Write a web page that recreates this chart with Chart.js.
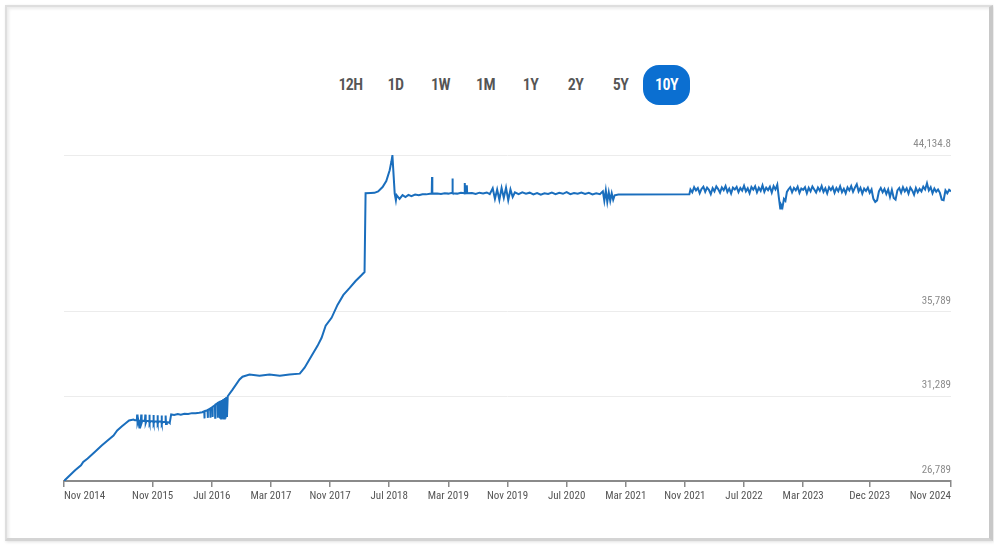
<!DOCTYPE html>
<html lang="en">
<head>
    <meta charset="UTF-8">
    <title>10Y Index Chart</title>
    <script src="https://cdn.jsdelivr.net/npm/chart.js@4.4.1/dist/chart.umd.min.js"></script>
    <style>
        body {
            margin: 0;
            width: 994px;
            height: 545px;
            background: #ffffff;
            font-family: 'Liberation Sans Narrow', 'Roboto Condensed', Roboto, sans-serif;
            overflow: hidden;
            position: relative;
        }
        .frame {
            position: absolute;
            left: 5px;
            top: 5px;
            width: 982px;
            height: 531px;
            border: 2px solid #dedede;
            border-right: 4px solid #c8c8c8;
            border-bottom: 3px solid #d4d4d4;
            box-shadow: inset 2px 2px 3px rgba(0, 0, 0, 0.08), 1px 1px 3px rgba(0, 0, 0, 0.12);
        }
        .ranges {
            position: absolute;
            left: 328px;
            top: 65px;
            display: flex;
        }
        .ranges span {
            width: 45px;
            height: 40px;
            line-height: 40px;
            text-align: center;
            font-size: 16px;
            font-weight: 600;
            letter-spacing: -0.6px;
            color: #555;
        }
        .ranges span.active {
            width: 47px;
            background: #0b6fd1;
            color: #fff;
            border-radius: 16px;
        }
        .chart-box {
            position: absolute;
            left: 0;
            top: 0;
            width: 994px;
            height: 545px;
        }
    </style>
</head>
<body>
    <div class="frame"></div>
    <div class="ranges">
        <span>12H</span><span>1D</span><span>1W</span><span>1M</span><span>1Y</span><span>2Y</span><span>5Y</span><span class="active">10Y</span>
    </div>
    <div class="chart-box">
        <canvas id="idx"></canvas>
    </div>

    <script>
        // months after Nov 2014 (one row per stretch of the line)
        const xMonths = [
            0, 0.8, 1.5, 2.3, 2.6, 3.2, 4.2, 5.1, 5.9, 6.7, 7.2, 7.8, 8.3, 8.8, 9.4,
            9.6, 9.85, 9.9, 9.95, 10.05, 10.2, 10.25, 10.4, 10.45, 10.5, 10.6, 10.95, 11.0, 11.05, 11.15, 11.5, 11.55, 11.6, 11.7,
            12.05, 12.1, 12.15, 12.25, 12.6, 12.65, 12.7, 12.8, 13.15, 13.2, 13.25, 13.35, 13.7, 13.75, 13.8, 13.9, 14.25, 14.3, 14.5,
            14.9, 15.4, 15.8, 16.3, 16.8, 17.3, 17.8, 18.3, 18.7,
            18.97, 19.0, 19.03, 19.42, 19.45, 19.48, 19.77, 19.8, 19.83, 20.07, 20.1, 20.13, 20.42, 20.45, 20.48, 20.77, 20.8, 20.83,
            21.05, 21.1, 21.15, 21.25, 21.35, 21.45, 21.55, 21.65, 21.75, 21.85, 21.95, 22.05, 22.15,
            22.8, 23.75, 24.15, 25.1, 26.45, 27.8, 29.2, 30.5, 31.9, 32.55, 33.5, 34.3, 34.85, 35.4, 36.2, 37.0, 37.8, 38.65, 39.45, 40.27, 40.66, 40.8,
            41.5, 42.0, 42.5, 43.1, 43.6, 44.06, 44.3, 44.43, 44.6, 44.74, 44.9, 45.0,
            45.4, 45.8, 46.2, 46.6, 47.0, 47.5, 48.0, 48.5, 49.0, 49.5, 49.75, 49.79, 49.83, 50.5, 51.0, 51.5, 52.0, 52.5, 52.55, 52.6,
            53.2, 53.7, 54.18, 54.22, 54.26, 54.46, 54.5, 54.54, 55.2, 55.7, 56.2, 56.7, 57.2, 57.6,
            58.0, 58.3, 58.6, 58.9, 59.2, 59.5, 59.8, 60.1, 60.4, 60.7, 61.0,
            61.5, 62.0, 62.5, 63.0, 63.5, 64.0, 64.5, 65.0, 65.5, 66.0, 66.5, 67.0, 67.5, 68.0, 68.5, 69.0, 69.5, 70.0, 70.5, 71.0, 71.5, 72.0, 72.5,
            72.9, 73.1, 73.3, 73.5, 73.7, 73.9, 74.1, 74.3, 74.5, 75.0, 84.6,
            84.75, 85.0, 85.25, 85.5, 85.75, 86.0, 86.25, 86.5, 86.75, 87.0, 87.25, 87.5, 87.75, 88.0, 88.25, 88.5,
            88.75, 89.0, 89.25, 89.5, 89.75, 90.0, 90.25, 90.5, 90.75, 91.0, 91.25, 91.5, 91.75, 92.0, 92.25, 92.5,
            92.75, 93.0, 93.25, 93.5, 93.75, 94.0, 94.25, 94.5, 94.75, 95.0, 95.25, 95.5, 95.75, 96.0, 96.25, 96.5,
            96.7, 96.9, 97.0, 97.2, 97.4, 97.6, 97.8,
            98.0, 98.25, 98.5, 98.75, 99.0, 99.25, 99.5, 99.75, 100.0, 100.25,
            100.5, 100.75, 101.0, 101.25, 101.5, 101.75, 102.0, 102.25, 102.5, 102.75,
            103.0, 103.25, 103.5, 103.75, 104.0, 104.25, 104.5, 104.75, 105.0, 105.25,
            105.5, 105.75, 106.0, 106.25, 106.5, 106.75, 107.0, 107.25, 107.5, 107.75,
            108.0, 108.25, 108.5, 108.75, 109.0, 109.25, 109.5, 109.75, 110.0, 110.25,
            110.5, 110.75, 111.0, 111.25, 111.5, 111.75, 112.0, 112.25, 112.5, 112.75,
            113.0, 113.25, 113.5, 113.75, 114.0, 114.25, 114.5, 114.75, 115.0, 115.25,
            115.5, 115.75, 116.0, 116.25, 116.5, 116.75, 117.0, 117.25, 117.5, 117.75,
            118.0, 118.25, 118.5, 118.75, 119.0, 119.25, 119.5, 119.75, 120.0
        ];
        const indexValues = [
            26789, 27090, 27360, 27620, 27800, 27990, 28350, 28680, 28950, 29210, 29480, 29690, 29850, 30010, 30060,
            30020, 30020, 30330, 29880, 30010, 29640, 30000, 30000, 30330, 29880, 30000, 29990, 30320, 29870, 29990, 29980, 30310, 29860, 29980,
            29970, 30300, 29850, 29970, 29960, 30290, 29840, 29950, 29950, 30280, 29830, 29940, 29930, 30270, 29820, 29920, 29900, 29880, 30330,
            30300, 30350, 30320, 30370, 30360, 30400, 30390, 30420, 30450,
            30500, 30120, 30500, 30560, 30150, 30580, 30640, 30150, 30660, 30720, 30200, 30740, 30820, 30150, 30850, 30920, 30150, 30950,
            31000, 30120, 31050, 30110, 31100, 30100, 31150, 30110, 31200, 30120, 31250, 30200, 31300,
            31650, 32190, 32340, 32450, 32390, 32450, 32390, 32450, 32500, 32820, 33450, 33980, 34410, 35050, 35470, 36160, 36690, 37060, 37430, 37750, 37910, 42100,
            42110, 42120, 42200, 42430, 42750, 43320, 43800, 44110, 43000, 42080, 41730, 42000,
            41800, 42000, 41900, 42010, 41950, 42030, 41990, 42050, 42040, 42070, 42080, 42960, 42080, 42090, 42060, 42100, 42080, 42120, 42890, 42100,
            42080, 42130, 42100, 42650, 42090, 42100, 42520, 42100, 42110, 42060, 42130, 42090, 42140, 42050,
            42360, 41800, 42300, 41750, 42380, 41850, 42400, 41730, 42300, 41900, 42150,
            42050, 42150, 42080, 42130, 42040, 42110, 42020, 42100, 42060, 42130, 42050, 42120, 42070, 42160, 42050, 42110, 42070, 42140, 42060, 42120, 42040, 42100, 42050,
            42200, 41700, 42250, 41640, 42150, 41700, 42100, 41750, 41990, 42030, 42040,
            42300, 42150, 42420, 42250, 42380, 42100, 42330, 42450, 42180, 42400, 42280, 42050, 42370, 42200, 42460, 42320,
            42130, 42410, 42260, 42480, 42170, 42350, 42090, 42400, 42300, 42440, 42160, 42380, 42240, 42500, 42200, 42360,
            42100, 42430, 42290, 42470, 42150, 42390, 42230, 42520, 42180, 42400, 42270, 42450, 42140, 42480, 42300, 42560,
            41900, 41290, 41500, 41350, 41800, 41700, 42170,
            42300, 42420, 42150, 42380, 42250, 42450, 42120, 42350, 42280, 42420,
            42100, 42390, 42200, 42460, 42300, 42140, 42400, 42230, 42480, 42170,
            42360, 42090, 42420, 42270, 42440, 42130, 42380, 42210, 42470, 42160,
            42340, 42100, 42410, 42250, 42480, 42180, 42400, 42580, 42200, 42390,
            42080, 42350, 42220, 42400, 42120, 42300, 41800, 41640, 41720, 42200,
            42380, 42150, 42330, 42060, 42300, 41900, 42280, 41850, 41760, 42250,
            42380, 42120, 42420, 42200, 42360, 42080, 42400, 42250, 42020, 42380,
            42150, 42330, 42200, 42450, 42300, 42630, 42250, 42420, 42100, 42350,
            42180, 42300, 42120, 41760, 41730, 42250, 42100, 42280, 42200
        ];

        const tickMonths = [0, 12, 20, 28, 36, 44, 52, 60, 68, 76, 84, 92, 100, 109, 120];
        const tickLabels = ['Nov 2014', 'Nov 2015', 'Jul 2016', 'Mar 2017', 'Nov 2017', 'Jul 2018', 'Mar 2019', 'Nov 2019',
            'Jul 2020', 'Mar 2021', 'Nov 2021', 'Jul 2022', 'Mar 2023', 'Dec 2023', 'Nov 2024'];
        const yTicks = [26789, 31289, 35789, 44134.8];
        const yTickLabels = ['26,789', '31,289', '35,789', '44,134.8'];

        const fontFamily = "'Liberation Sans Narrow', 'Roboto Condensed', Roboto, sans-serif";

        const ctx = document.getElementById('idx').getContext('2d');
        new Chart(ctx, {
            type: 'line',
            data: {
                datasets: [{
                    data: xMonths.map((m, i) => ({ x: m, y: indexValues[i] })),
                    borderColor: '#1a6ebd',
                    borderWidth: 2,
                    pointRadius: 0,
                    tension: 0,
                    fill: false
                }]
            },
            options: {
                responsive: true,
                maintainAspectRatio: false,
                animation: false,
                layout: {
                    padding: { left: 64, right: 43, top: 155, bottom: 34 }
                },
                plugins: {
                    legend: { display: false },
                    tooltip: { enabled: false }
                },
                scales: {
                    x: {
                        type: 'linear',
                        min: 0,
                        max: 120,
                        afterBuildTicks: (scale) => {
                            scale.ticks = tickMonths.map(v => ({ value: v }));
                        },
                        afterFit: (scale) => { scale.height = 30; },
                        grid: {
                            drawOnChartArea: false,
                            drawTicks: true,
                            tickLength: 6,
                            color: '#8a8a8a',
                            lineWidth: 1.5
                        },
                        border: { display: true, color: '#8a8a8a', width: 2 },
                        ticks: {
                            autoSkip: false,
                            maxRotation: 0,
                            align: 'inner',
                            padding: 3,
                            color: '#555',
                            font: { family: fontFamily, size: 11 },
                            callback: (v, i) => tickLabels[i]
                        }
                    },
                    y: {
                        position: 'right',
                        min: 26789,
                        max: 44134.8,
                        afterBuildTicks: (scale) => {
                            scale.ticks = yTicks.map(v => ({ value: v }));
                        },
                        afterFit: (scale) => { scale.width = 0; },
                        grid: {
                            drawTicks: false,
                            color: '#ececec',
                            lineWidth: 1
                        },
                        border: { display: false },
                        ticks: {
                            mirror: true,
                            padding: 0,
                            labelOffset: -11,
                            color: '#8c8c8c',
                            font: { family: fontFamily, size: 11 },
                            callback: (v, i) => yTickLabels[i]
                        }
                    }
                }
            }
        });
    </script>
</body>
</html>
